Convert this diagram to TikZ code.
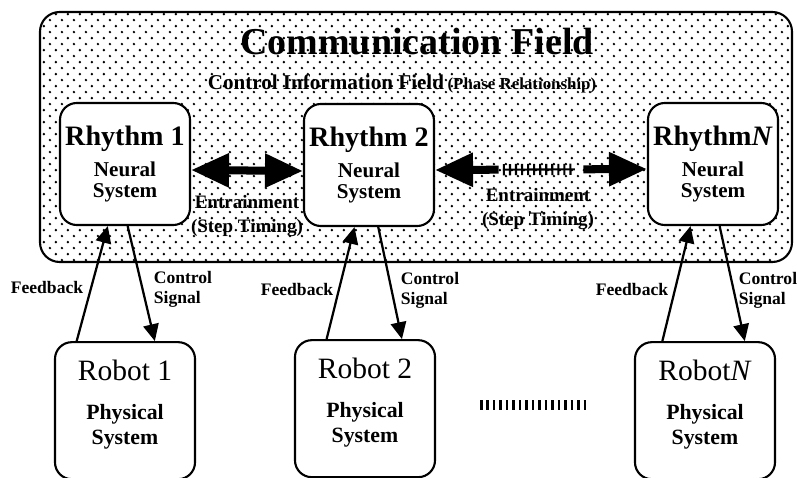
\documentclass[tikz,border=0pt]{standalone}
\usepackage{fontspec}
\setmainfont{Liberation Serif}
\usetikzlibrary{positioning, arrows.meta, calc, patterns.meta}

% staggered dot fill for the field
\tikzdeclarepattern{
  name=fielddots,
  type=uncolored,
  bounding box={(0pt,0pt) and (8.5pt,8.5pt)},
  tile size={(8.5pt,8.5pt)},
  code={
    \pgfpathcircle{\pgfpoint{2.1pt}{2.1pt}}{0.95pt}
    \pgfpathcircle{\pgfpoint{6.35pt}{6.35pt}}{0.95pt}
    \pgfusepath{fill}
  }
}

\begin{document}
\begin{tikzpicture}[
  x=0.025cm, y=-0.025cm,
  rbox/.style={draw, fill=white, line width=1.5pt, rounded corners=12pt, align=center, inner sep=0pt},
  rhythm/.style={rbox, minimum width=3.25cm, minimum height=3.05cm, font=\bfseries\fontsize{15}{15.5}\selectfont},
  robot/.style={rbox, minimum width=3.5cm, minimum height=3.425cm, text depth=12pt, font=\bfseries\fontsize{15.5}{18}\selectfont},
  lbl/.style={font=\bfseries\fontsize{12.5}{14}\selectfont, align=left, inner sep=0pt},
  entlbl/.style={font=\bfseries\fontsize{13.5}{17}\selectfont, align=center, inner sep=0pt},
  sig/.style={-{Triangle[length=12pt, width=11pt]}, line width=1.6pt},
  entr/.style={{Triangle[length=27pt, width=23pt]}-{Triangle[length=27pt, width=23pt]}, line width=5.7pt},
  enth/.style={-{Triangle[length=27pt, width=23pt]}, line width=5.7pt},
  bars/.style={line width=8pt, dash pattern=on 1.5pt off 2.8pt}
]
  \useasboundingbox (0,0) rectangle (797,478);

  % Communication field (dotted background)
  \draw[line width=1.5pt, rounded corners=14pt, pattern=fielddots] (40,12) rectangle (792,262);
  \node[font=\bfseries\fontsize{27}{30}\selectfont, inner sep=0pt] (ttl) at (417,42) {Communication Field};
  \node[font=\bfseries\fontsize{15}{17}\selectfont, inner sep=0pt] (cif) at (402,84)
    {Control Information Field\,{\fontsize{12}{14}\selectfont(Phase Relationship)}};

  % Rhythm generators (neural systems)
  \node[rhythm] (r1) at (125,164) {{\fontsize{20}{22}\selectfont Rhythm 1}\\[6.5pt]Neural\\System};
  \node[rhythm] (r2) at (369,165) {{\fontsize{20}{22}\selectfont Rhythm 2}\\[6.5pt]Neural\\System};
  \node[rhythm] (rN) at (713,164) {{\fontsize{20}{22}\selectfont Rhythm\textit{N}}\\[6.5pt]Neural\\System};

  % Robots (physical systems)
  \node[robot, below=2.875cm of r1] (b1) {{\mdseries\fontsize{21}{22}\selectfont Robot 1}\\[10pt]Physical\\System};
  \node[robot, below=2.8cm of r2, xshift=-0.1cm] (b2) {{\mdseries\fontsize{21}{22}\selectfont Robot 2}\\[10pt]Physical\\System};
  \node[robot, below=2.875cm of rN, xshift=-0.2cm] (bN) {{\mdseries\fontsize{21}{22}\selectfont Robot\textit{N}}\\[10pt]Physical\\System};

  % Entrainment between neighbours
  \draw[entr] ([yshift=-0.15cm]r1.east) -- ([yshift=-0.15cm]r2.west);
  \coordinate (ga) at ($([yshift=-0.125cm]r2.east)!0.30!([yshift=-0.125cm]rN.west)$);
  \coordinate (gb) at ($([yshift=-0.125cm]r2.east)!0.70!([yshift=-0.125cm]rN.west)$);
  \draw[enth] (ga) -- ([yshift=-0.125cm]r2.east);
  \draw[enth] (gb) -- ([yshift=-0.125cm]rN.west);
  \draw[bars] ($(ga)!0.05!(gb)$) -- ($(gb)!0.1!(ga)$);
  \draw[line width=1.5pt] ($(ga)!0.05!(gb)$) -- ($(gb)!0.1!(ga)$);

  \node[entlbl] (e1) at (247,216) {Entrainment\\(Step Timing)};
  \node[entlbl] (e2) at (538,209) {Entrainment\\(Step Timing)};

  % Feedback and control signals
  \draw[sig] ($(b1.north west)!0.16!(b1.north east)$) -- ($(r1.south west)!0.37!(r1.south east)$);
  \draw[sig] ($(r1.south west)!0.52!(r1.south east)$) -- ($(b1.north west)!0.71!(b1.north east)$);
  \draw[sig] ($(b2.north west)!0.23!(b2.north east)$) -- ($(r2.south west)!0.39!(r2.south east)$);
  \draw[sig] ($(r2.south west)!0.57!(r2.south east)$) -- ($(b2.north west)!0.76!(b2.north east)$);
  \draw[sig] ($(bN.north west)!0.20!(bN.north east)$) -- ($(rN.south west)!0.33!(rN.south east)$);
  \draw[sig] ($(rN.south west)!0.55!(rN.south east)$) -- ($(bN.north west)!0.78!(bN.north east)$);

  \node[lbl] (f1) at (47,287) {Feedback};
  \node[lbl] (c1) at (183,289) {Control\\Signal};
  \node[lbl] (f2) at (297,289) {Feedback};
  \node[lbl] (c2) at (430,290) {Control\\Signal};
  \node[lbl] (fN) at (632,289) {Feedback};
  \node[lbl] (cN) at (768,290) {Control\\Signal};

  % more robots in between
  \coordinate (da) at (480,405);
  \coordinate (db) at (586,405);
  \draw[line width=7pt, dash pattern=on 1.8pt off 2.8pt] (da) -- (db);
\end{tikzpicture}
\end{document}
